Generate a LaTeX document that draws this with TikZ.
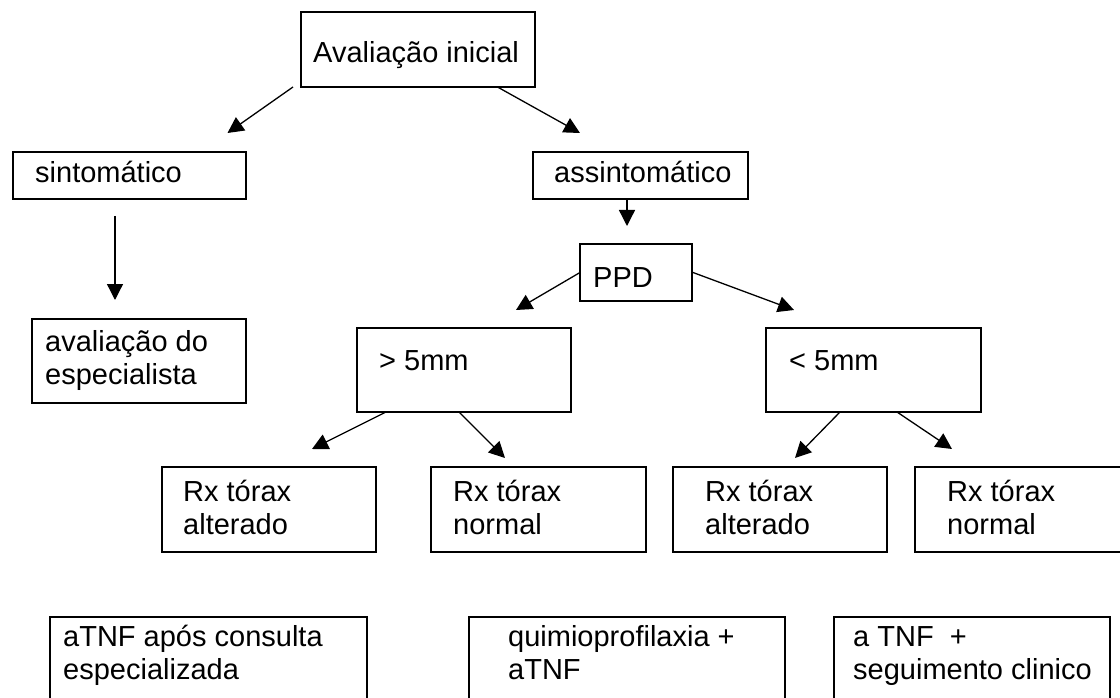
\documentclass[tikz,border=0pt]{standalone}
\usepackage{fontspec}
\setmainfont{Liberation Sans}
\usetikzlibrary{arrows.meta,calc}
\begin{document}
\begin{tikzpicture}[x=1pt,y=-1pt,
  box/.style={draw=black,line width=1.3pt,anchor=north west,inner sep=0pt,outer sep=0pt},
  txt/.style={anchor=base west,inner sep=0pt,align=left,font=\fontsize{29}{33}\selectfont},
  arr/.style={draw=black,line width=1.3pt,-{Triangle[length=16pt,width=16pt]}}]
\useasboundingbox (0,0) rectangle (1120,698);
\clip (0,0) rectangle (1120,698);
% boxes
\node[box,minimum width=234pt,minimum height=75pt] (ini) at (301,12) {};
\node[box,minimum width=233pt,minimum height=47pt] (sint) at (13,152) {};
\node[box,minimum width=215pt,minimum height=47pt] (assint) at (533,152) {};
\node[box,minimum width=214pt,minimum height=84pt] (esp) at (32,319) {};
\node[box,minimum width=112pt,minimum height=57pt] (ppd) at (580,244) {};
\node[box,minimum width=214pt,minimum height=84pt] (gt) at (357,328) {};
\node[box,minimum width=215pt,minimum height=84pt] (lt) at (766,328) {};
\node[box,minimum width=214pt,minimum height=85pt] (rxa1) at (162,467) {};
\node[box,minimum width=215pt,minimum height=85pt] (rxn1) at (431,467) {};
\node[box,minimum width=214pt,minimum height=85pt] (rxa2) at (673,467) {};
\node[box,minimum width=225pt,minimum height=85pt] (rxn2) at (915,467) {};
\node[box,minimum width=317pt,minimum height=100pt] (atnf1) at (50,617) {};
\node[box,minimum width=316pt,minimum height=100pt] (quimio) at (469,617) {};
\node[box,minimum width=276pt,minimum height=100pt] (atnf2) at (834,617) {};
% texts (two-line texts are placed by the baseline of their last line)
\node[txt] (t-ini) at (313,63) {Avaliação inicial};
\node[txt] (t-sint) at (35,183) {sintomático};
\node[txt] (t-assint) at (554,183) {assintomático};
\node[txt] (t-esp) at (45,384) {avaliação do\\especialista};
\node[txt] (t-ppd) at (593,287) {PPD};
\node[txt] (t-gt) at (379,370) {> 5mm};
\node[txt] (t-lt) at (789,370) {< 5mm};
\node[txt] (t-rxa1) at (183,534) {Rx tórax\\alterado};
\node[txt] (t-rxn1) at (453,534) {Rx tórax\\normal};
\node[txt] (t-rxa2) at (705,534) {Rx tórax\\alterado};
\node[txt] (t-rxn2) at (947,534) {Rx tórax\\normal};
\node[txt] (t-atnf1) at (63,679) {aTNF após consulta\\especializada};
\node[txt] (t-quimio) at (508,679) {quimioprofilaxia +\\aTNF};
\node[txt] (t-atnf2) at (853,679) {a TNF\ \ +\\seguimento clinico};
% connectors
\draw[arr] ($(ini.south west)+(-8,0)$) -- ($(sint.north east)+(-18.5,-19)$);
\draw[arr] ($(ini.south east)+(-37.5,0)$) -- ($(assint.north west)+(47,-19)$);
\draw[arr] ($(sint.south)+(-14.5,17)$) -- ($(esp.north)+(-24,-19)$);
\draw[arr] ($(assint.south west)+(94,0)$) -- ($(ppd.north west)+(47,-18)$);
\draw[arr] (ppd.west) -- ($(gt.north west)+(159,-18)$);
\draw[arr] ($(ppd.east)+(1,0)$) -- ($(lt.north west)+(28,-18)$);
\draw[arr] ($(gt.south west)+(29,0)$) -- ($(rxa1.north west)+(150,-18)$);
\draw[arr] ($(gt.south west)+(102,0)$) -- ($(rxn1.north west)+(74,-9)$);
\draw[arr] ($(lt.south west)+(74,0)$) -- ($(rxa2.north west)+(122,-9)$);
\draw[arr] ($(lt.south west)+(131,0)$) -- ($(rxn2.north west)+(37,-18)$);
\end{tikzpicture}
\end{document}
